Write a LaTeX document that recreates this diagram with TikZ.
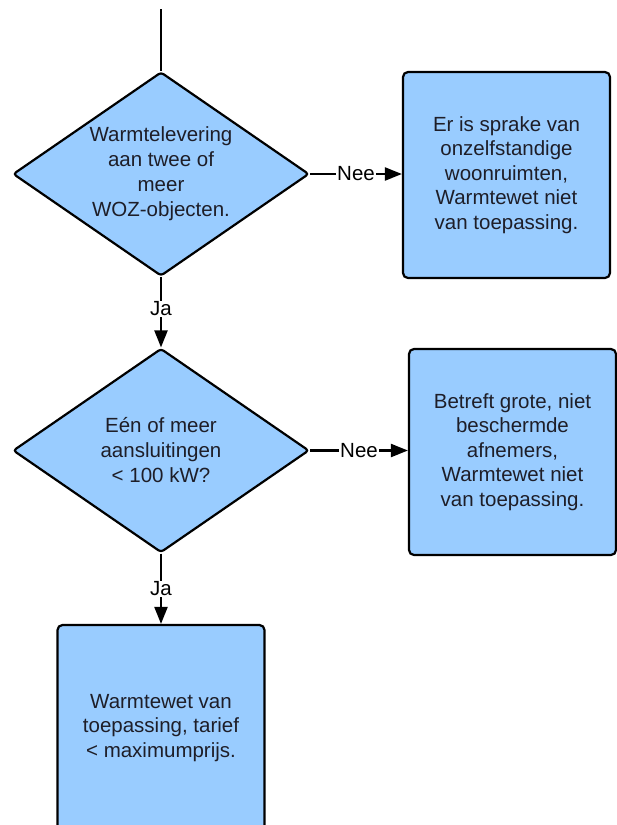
\documentclass[tikz,border=0pt]{standalone}
\usepackage{fontspec}
\setmainfont{Liberation Sans}
\usetikzlibrary{shapes.geometric,arrows.meta}
\definecolor{vakblauw}{RGB}{153,204,255}
\definecolor{tekst}{RGB}{30,30,40}

\begin{document}
\begin{tikzpicture}[x=1pt,y=-1pt,line width=2.2pt,
  keuze/.style={diamond,draw,fill=vakblauw,minimum width=296pt,minimum height=204pt,
    inner sep=0pt,shape aspect=1.45,rounded corners=3pt,align=center,text=tekst,
    font=\fontsize{20.5}{25}\selectfont},
  uitkomst/.style={rectangle,draw,fill=vakblauw,minimum width=207pt,minimum height=206pt,
    rounded corners=5pt,align=center,text=tekst,font=\fontsize{20.5}{24.5}\selectfont},
  pijl/.style={-{Triangle[length=17pt,width=13pt]}},
  tak/.style={fill=white,inner sep=1pt,text=black,font=\fontsize{20.5}{24}\selectfont}]
  \useasboundingbox (0,0) rectangle (617,825);
  \clip (0,0) rectangle (617,825);
  \coordinate (begin) at (161,9);
  % vragen
  \node[keuze] (vraag1) at (161,174) {Warmtelevering\\aan twee of\\meer\\WOZ-objecten.};
  \node[keuze] (vraag2) at (161,450.5) {Eén of meer\\aansluitingen\\< 100 kW?};
  % uitkomsten
  \node[uitkomst] (nee1) at (506.5,175) {Er is sprake van\\onzelfstandige\\woonruimten,\\Warmtewet niet\\van toepassing.};
  \node[uitkomst] (nee2) at (512.5,452) {Betreft grote, niet\\beschermde\\afnemers,\\Warmtewet niet\\van toepassing.};
  \node[uitkomst] (ja2) at (161,728) {Warmtewet van\\toepassing, tarief\\< maximumprijs.};
  % verbindingen
  \draw (begin) -- (vraag1.north);
  \draw[pijl] (vraag1.east) -- node[tak] {Nee} (vraag1.east -| nee1.west);
  \draw[pijl] (vraag1.south) -- node[tak,pos=0.45] {Ja} (vraag2.north);
  \draw[pijl] (vraag2.east) -- node[tak] {Nee} (vraag2.east -| nee2.west);
  \draw[pijl] (vraag2.south) -- node[tak] {Ja} (ja2.north);
\end{tikzpicture}
\end{document}
